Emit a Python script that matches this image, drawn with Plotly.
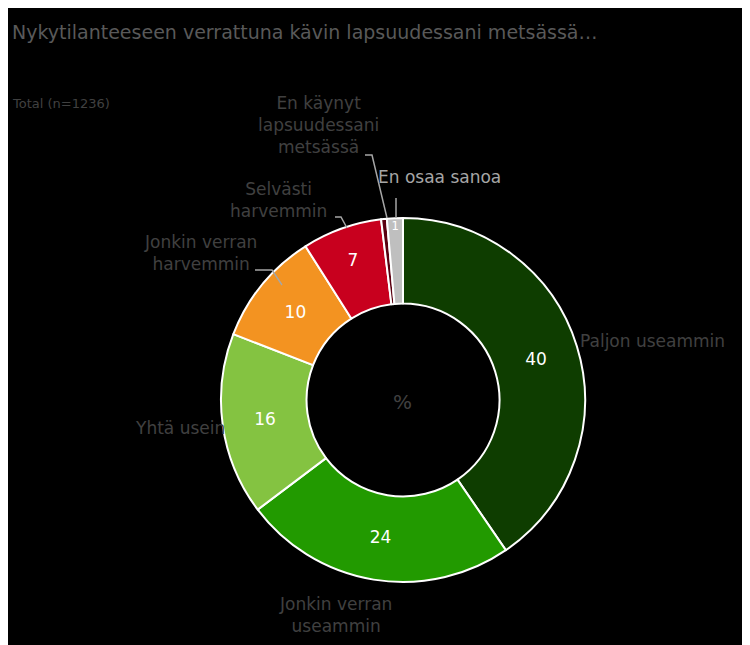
import plotly.graph_objects as go

labels = ["Paljon useammin", "Jonkin verran useammin", "Yhtä usein",
          "Jonkin verran harvemmin", "Selvästi harvemmin",
          "En käynyt lapsuudessani metsässä", "En osaa sanoa"]
values = [40, 24, 16, 10, 7, 0.5, 1.4]
value_text = ["40", "24", "16", "10", "7", "", "1"]
colors = ["#0e3d00", "#229a00", "#84c341", "#f39321", "#c8001e", "#5a0010", "#bfbfbf"]

W, H = 750, 645
OFF = 8  # page body margin


def px(x, y):
    return (x - OFF) / W, 1 - (y - OFF) / H


fig = go.Figure(go.Pie(
    labels=labels, values=values, text=value_text, textinfo="text",
    textposition="inside", insidetextorientation="horizontal",
    hole=0.53, sort=False, direction="clockwise", rotation=0,
    marker=dict(colors=colors, line=dict(color="white", width=2)),
    textfont=dict(color="white", size=17, family="DejaVu Sans"),
    domain=dict(x=[px(221, 0)[0], px(585, 0)[0]], y=[px(0, 582)[1], px(0, 218)[1]]),
    showlegend=False,
))

grey = "#404040"
notes = [
    ("Nykytilanteeseen verrattuna kävin lapsuudessani metsässä…", 10, 32, 19, "#595959", "left"),
    ("Total (n=1236)", 10, 103, 13, grey, "left"),
    ("En käynyt<br>lapsuudessani<br>metsässä", 318, 125, 17, grey, "center"),
    ("En osaa sanoa", 440, 177, 17, "#a6a6a6", "center"),
    ("Selvästi<br>harvemmin", 278, 200, 17, grey, "center"),
    ("Jonkin verran<br>harvemmin", 200, 253, 17, grey, "center"),
    ("Yhtä usein", 180, 428, 17, grey, "center"),
    ("Paljon useammin", 652, 341, 17, grey, "center"),
    ("Jonkin verran<br>useammin", 335, 615, 17, grey, "center"),
    ("%", 402, 402, 20, grey, "center"),
]
for txt, x, y, size, col, anchor in notes:
    ax, ay = px(x, y)
    fig.add_annotation(text=txt, x=ax, y=ay, xref="paper", yref="paper",
                       xanchor=anchor, yanchor="middle", showarrow=False,
                       font=dict(size=size, color=col, family="DejaVu Sans"))

leaders = [
    [(365, 155), (372, 155), (387, 218)],
    [(335, 217), (341, 217), (347, 228)],
    [(255, 270), (272, 270), (282, 285)],
    [(396, 198), (396, 218)],
]
for pts in leaders:
    path = "M " + " L ".join(f"{px(x, y)[0]},{px(x, y)[1]}" for x, y in pts)
    fig.add_shape(type="path", path=path, xref="paper", yref="paper",
                  line=dict(color="#a6a6a6", width=1.5))

fig.update_layout(
    width=W, height=H, margin=dict(l=0, r=0, t=0, b=0),
    paper_bgcolor="black", plot_bgcolor="black",
)

fig.write_html("out.html")
